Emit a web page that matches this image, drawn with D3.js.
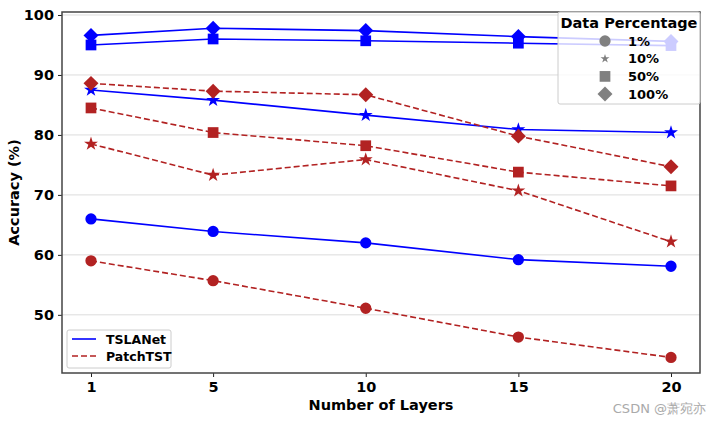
<!DOCTYPE html>
<html><head><meta charset="utf-8">
<script src="https://cdn.jsdelivr.net/npm/d3@7"></script>
<style>
body{margin:0;background:#fff;}
svg text{font-family:"DejaVu Sans",sans-serif;}
</style></head>
<body><svg id="c" width="721" height="424"></svg>
<script>
const layers = [1, 5, 10, 15, 20];
const percentages = ["1%", "10%", "50%", "100%"];
const models = ["TSLANet", "PatchTST"];
const yTicks = [50, 60, 70, 80, 90, 100];
// TSLANet
const tsla_1 = [66.0, 63.9, 62.0, 59.2, 58.1];
const tsla_10 = [87.5, 85.8, 83.3, 80.9, 80.4];
const tsla_50 = [95.0, 96.0, 95.7, 95.3, 94.9];
const tsla_100 = [96.6, 97.8, 97.4, 96.4, 95.6];
// PatchTST
const patch_1 = [59.0, 55.7, 51.1, 46.3, 42.9];
const patch_10 = [78.5, 73.3, 75.9, 70.7, 62.2];
const patch_50 = [84.5, 80.4, 78.2, 73.8, 71.5];
const patch_100 = [88.6, 87.3, 86.7, 79.8, 74.7];

const svg = d3.select("#c");
const L = 62, R = 700, T = 12, B = 373;
const x = d3.scaleLinear().domain([0.05, 20.95]).range([L, R]);
const y = d3.scaleLinear().domain([40.3, 100.5]).range([B, T]);

const colors = {TSLANet: "#0000ff", PatchTST: "#b22222"};
const dashes = {TSLANet: null, PatchTST: "6,3"};
const shapes = {"1%": d3.symbolCircle, "10%": d3.symbolStar, "50%": d3.symbolSquare, "100%": d3.symbolSquare};
const rot = {"1%": 0, "10%": 0, "50%": 0, "100%": 45};
const sizes = {"1%": 100, "10%": 60, "50%": 115, "100%": 112};

// grid
svg.append("g").selectAll("line").data(yTicks).join("line")
  .attr("x1", L).attr("x2", R).attr("y1", d => y(d)).attr("y2", d => y(d))
  .attr("stroke", "#dcdcdc").attr("stroke-width", 1);

const series = [];
const tsla = {"1%": tsla_1, "10%": tsla_10, "50%": tsla_50, "100%": tsla_100};
const patch = {"1%": patch_1, "10%": patch_10, "50%": patch_50, "100%": patch_100};
percentages.forEach(p => {
  series.push({model: "TSLANet", p, vals: tsla[p]});
  series.push({model: "PatchTST", p, vals: patch[p]});
});

const line = d3.line().x((d, i) => x(layers[i])).y(d => y(d));
const plot = svg.append("g");
series.forEach(s => {
  plot.append("path").datum(s.vals).attr("d", line)
    .attr("fill", "none").attr("stroke", colors[s.model]).attr("stroke-width", 1.6)
    .attr("stroke-dasharray", dashes[s.model]);
  plot.selectAll(null).data(s.vals).join("path")
    .attr("transform", (d, i) => `translate(${x(layers[i])},${y(d)}) rotate(${rot[s.p]})`)
    .attr("d", d3.symbol().type(shapes[s.p]).size(sizes[s.p]))
    .attr("fill", colors[s.model]);
});

// axes
const ya = d3.axisLeft(y).tickValues(yTicks).tickSize(4).tickPadding(4);
const xa = d3.axisBottom(x).tickValues(layers).tickSize(4).tickPadding(5);
const gy = svg.append("g").attr("transform", `translate(${L},0)`).call(ya);
const gx = svg.append("g").attr("transform", `translate(0,${B})`).call(xa);
[gx, gy].forEach(g => {
  g.select(".domain").remove();
  g.selectAll("line").attr("stroke", "#222").attr("stroke-width", 1);
  g.selectAll("text").attr("font-family", "DejaVu Sans").attr("font-weight", "bold")
    .attr("font-size", 14.5).attr("fill", "#000");
});
svg.append("rect").attr("x", L).attr("y", T).attr("width", R - L).attr("height", B - T)
  .attr("fill", "none").attr("stroke", "#444").attr("stroke-width", 1.5);

svg.append("text").attr("x", (L + R) / 2).attr("y", 410).attr("text-anchor", "middle")
  .attr("font-weight", "bold").attr("font-size", 14.5).text("Number of Layers");
svg.append("text").attr("transform", `translate(19,${(T + B) / 2}) rotate(-90)`)
  .attr("text-anchor", "middle").attr("font-weight", "bold").attr("font-size", 14.5).text("Accuracy (%)");

// legend: Data Percentage
const lg = svg.append("g");
lg.append("rect").attr("x", 558).attr("y", 12).attr("width", 142).attr("height", 92).attr("rx", 2)
  .attr("fill", "#fff").attr("fill-opacity", 0.8).attr("stroke", "#ccc").attr("stroke-width", 1);
lg.append("text").attr("x", 629).attr("y", 27.5).attr("text-anchor", "middle")
  .attr("font-weight", "bold").attr("font-size", 14.5).text("Data Percentage");
percentages.forEach((p, i) => {
  const yy = 41 + i * 17.7;
  lg.append("path").attr("transform", `translate(605,${yy}) rotate(${rot[p]})`)
    .attr("d", d3.symbol().type(shapes[p]).size(p === "10%" ? 25 : sizes[p])).attr("fill", "#808080");
  lg.append("text").attr("x", 628).attr("y", yy + 4.5).attr("font-weight", "bold")
    .attr("font-size", 13).text(p);
});

// legend: models
const lm = svg.append("g");
lm.append("rect").attr("x", 67).attr("y", 330).attr("width", 104).attr("height", 38).attr("rx", 2)
  .attr("fill", "#fff").attr("fill-opacity", 0.8).attr("stroke", "#ccc").attr("stroke-width", 1);
models.forEach((m, i) => {
  const yy = 339 + i * 17;
  lm.append("line").attr("x1", 72).attr("x2", 96).attr("y1", yy).attr("y2", yy)
    .attr("stroke", colors[m]).attr("stroke-width", 1.6).attr("stroke-dasharray", dashes[m]);
  lm.append("text").attr("x", 106).attr("y", yy + 4.5).attr("font-weight", "bold")
    .attr("font-size", 12.5).text(m);
});

svg.append("text").attr("x", 706).attr("y", 413).attr("text-anchor", "end")
  .attr("font-family", "Noto Sans CJK SC").attr("font-size", 13).attr("fill", "#aaa")
  .text("CSDN @萧宛亦");
</script></body></html>
